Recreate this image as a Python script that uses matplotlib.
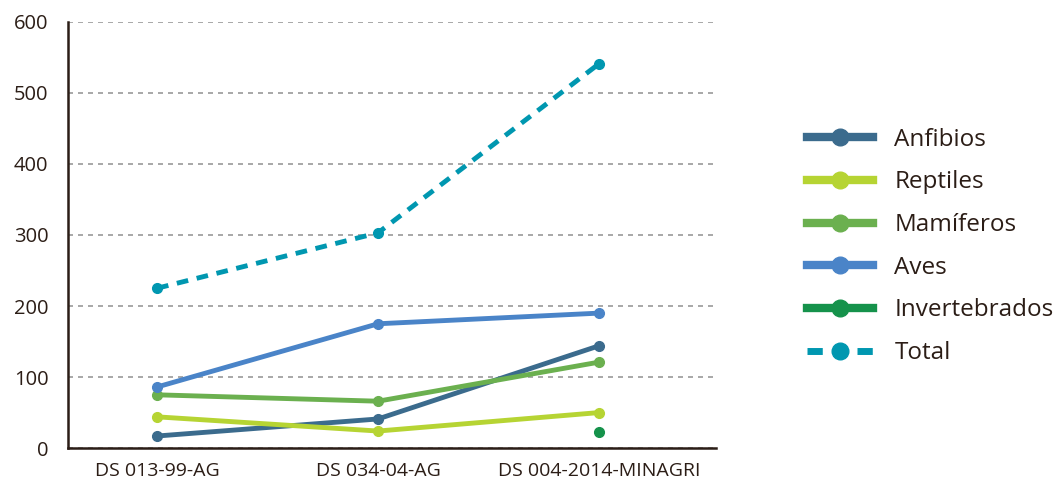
import matplotlib.pyplot as plt
import numpy as np
from matplotlib.lines import Line2D

plt.rcParams['font.family'] = ['Open Sans', 'DejaVu Sans']

categories = ['DS 013-99-AG', 'DS 034-04-AG', 'DS 004-2014-MINAGRI']
anfibios = [17, 41, 144]
reptiles = [44, 24, 50]
mamiferos = [75, 66, 121]
aves = [86, 175, 190]
invertebrados = [np.nan, np.nan, 22]
total = [225, 303, 541]

names = ['Anfibios', 'Reptiles', 'Mamíferos', 'Aves', 'Invertebrados']
colors = ['#3b6b8d', '#b6d433', '#6bb04f', '#4a84c8', '#15924b']
series = [anfibios, reptiles, mamiferos, aves, invertebrados]
total_color = '#0097b0'
text_color = '#2b1d16'

fig = plt.figure(figsize=(10.59, 4.86), dpi=100)
ax = fig.add_axes([0.0642, 0.078, 0.612, 0.877])

x = np.arange(len(categories))
for name, col, vals in zip(names, colors, series):
    ax.plot(x, vals, color=col, lw=3.5, marker='o', ms=7, solid_capstyle='round')
ax.plot(x, total, color=total_color, lw=3.5, ls=(0, (2.4, 1.8)), marker='o', ms=7)

ax.set_xlim(-0.403, 2.53)
ax.set_ylim(0, 600)
ax.set_yticks(range(0, 601, 100))
ax.set_xticks(x)
ax.set_xticklabels(categories)
ax.tick_params(length=0, labelsize=14, colors=text_color, pad=10)
ax.tick_params(axis='y', pad=14, labelsize=14.5)
ax.grid(axis='y', color='#999999', ls=(0, (3, 3)), lw=1.2)
ax.set_axisbelow(True)
for s in ['top', 'right']:
    ax.spines[s].set_visible(False)
for s in ['left', 'bottom']:
    ax.spines[s].set_color(text_color)
    ax.spines[s].set_linewidth(1.8)

handles = [Line2D([], [], color=c, lw=6, marker='o', ms=12) for c in colors]
handles.append(Line2D([], [], color=total_color, lw=5, ls=(0, (2.2, 5)), marker='o', ms=12))
leg = fig.legend(handles, names + ['Total'], loc='center left', bbox_to_anchor=(0.762, 0.493),
                 frameon=False, fontsize=17.5, handlelength=2.7, labelspacing=0.77,
                 handletextpad=0.9, borderpad=0, borderaxespad=0, labelcolor=text_color)

fig.savefig('out.png', dpi=100)
